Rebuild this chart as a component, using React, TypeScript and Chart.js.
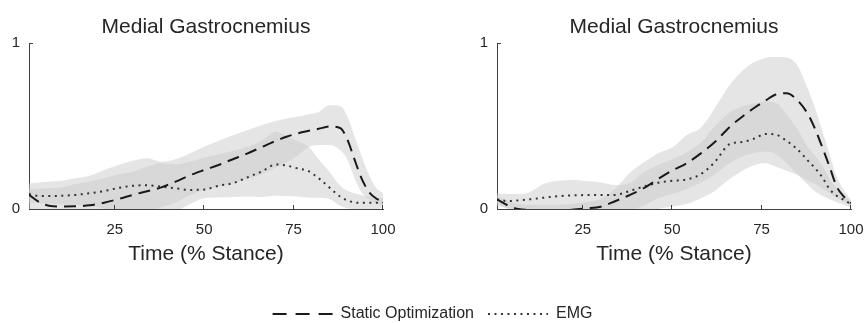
import React, { useEffect, useRef } from 'react';
import { Chart, registerables } from 'chart.js';

Chart.register(...registerables);

// ---- data ----
const STANCE = [1, 4, 7, 10, 14, 18, 22, 26, 30, 34, 38, 42, 46, 50, 54, 58, 62, 66, 70, 73, 76, 79, 82, 85, 88, 90, 92, 94, 96, 98, 100];

// Left panel
const LEFT_SO_MEAN = [0.085, 0.04, 0.018, 0.015, 0.016, 0.022, 0.038, 0.06, 0.085, 0.107, 0.13, 0.165, 0.203, 0.235, 0.265, 0.3, 0.334, 0.372, 0.41, 0.435, 0.455, 0.47, 0.483, 0.497, 0.488, 0.42, 0.3, 0.185, 0.105, 0.065, 0.044];
const LEFT_SO_UPPER = [0.155, 0.16, 0.165, 0.17, 0.185, 0.2, 0.235, 0.265, 0.29, 0.305, 0.285, 0.3, 0.335, 0.375, 0.41, 0.445, 0.475, 0.505, 0.53, 0.545, 0.555, 0.57, 0.585, 0.625, 0.62, 0.56, 0.44, 0.32, 0.21, 0.13, 0.095];
const LEFT_SO_LOWER = [-0.03, -0.08, -0.1, -0.11, -0.11, -0.1, -0.09, -0.07, -0.04, -0.015, 0.01, 0.04, 0.085, 0.115, 0.135, 0.155, 0.18, 0.21, 0.25, 0.28, 0.32, 0.37, 0.385, 0.385, 0.355, 0.3, 0.19, 0.1, 0.06, 0.035, 0.02];
const LEFT_EMG_MEAN = [0.09, 0.078, 0.078, 0.08, 0.085, 0.095, 0.108, 0.127, 0.14, 0.143, 0.135, 0.125, 0.115, 0.117, 0.14, 0.155, 0.19, 0.225, 0.268, 0.262, 0.245, 0.23, 0.185, 0.13, 0.075, 0.052, 0.04, 0.037, 0.037, 0.037, 0.038];
const LEFT_EMG_UPPER = [0.12, 0.122, 0.125, 0.13, 0.15, 0.165, 0.185, 0.21, 0.225, 0.255, 0.275, 0.27, 0.285, 0.31, 0.33, 0.35, 0.375, 0.41, 0.465, 0.44, 0.41, 0.38, 0.3, 0.225, 0.14, 0.11, 0.095, 0.085, 0.075, 0.07, 0.065];
const LEFT_EMG_LOWER = [0.04, 0.035, 0.03, 0.028, 0.022, 0.015, 0.003, -0.02, -0.03, -0.035, -0.03, -0.015, 0.03, 0.065, 0.07, 0.072, 0.075, 0.072, 0.08, 0.078, 0.075, 0.07, 0.068, 0.06, 0.02, 0.005, 0.0, -0.005, -0.005, 0.0, 0.005];

// Right panel
const RIGHT_SO_MEAN = [0.058, 0.022, 0.0, -0.005, -0.006, -0.006, -0.004, 0.004, 0.014, 0.047, 0.083, 0.125, 0.18, 0.232, 0.275, 0.335, 0.405, 0.493, 0.563, 0.61, 0.652, 0.69, 0.697, 0.655, 0.57, 0.48, 0.37, 0.255, 0.135, 0.075, 0.034];
const RIGHT_SO_UPPER = [0.08, 0.05, 0.03, 0.025, 0.025, 0.025, 0.03, 0.04, 0.06, 0.12, 0.215, 0.28, 0.335, 0.37, 0.445, 0.49, 0.61, 0.745, 0.84, 0.885, 0.91, 0.915, 0.913, 0.865, 0.72, 0.605, 0.47, 0.33, 0.195, 0.115, 0.054];
const RIGHT_SO_LOWER = [0.035, 0.0, -0.03, -0.035, -0.037, -0.037, -0.035, -0.03, -0.03, -0.02, -0.005, 0.02, 0.065, 0.09, 0.12, 0.16, 0.21, 0.275, 0.32, 0.337, 0.346, 0.33, 0.275, 0.21, 0.145, 0.105, 0.08, 0.058, 0.04, 0.025, 0.01];
const RIGHT_EMG_MEAN = [0.058, 0.048, 0.052, 0.058, 0.068, 0.077, 0.082, 0.084, 0.085, 0.085, 0.108, 0.135, 0.158, 0.17, 0.178, 0.21, 0.285, 0.39, 0.405, 0.425, 0.452, 0.448, 0.41, 0.36, 0.29, 0.245, 0.19, 0.12, 0.08, 0.055, 0.03];
const RIGHT_EMG_UPPER = [0.095, 0.09, 0.09, 0.1, 0.15, 0.17, 0.175, 0.168, 0.16, 0.145, 0.155, 0.22, 0.265, 0.3, 0.34, 0.4, 0.5, 0.58, 0.62, 0.635, 0.648, 0.64, 0.57, 0.48, 0.37, 0.32, 0.26, 0.18, 0.125, 0.08, 0.045];
const RIGHT_EMG_LOWER = [0.02, 0.005, 0.0, -0.01, -0.015, -0.02, -0.02, -0.02, -0.02, -0.02, -0.01, -0.01, 0.0, 0.015, 0.03, 0.065, 0.11, 0.18, 0.235, 0.265, 0.275, 0.255, 0.23, 0.205, 0.17, 0.15, 0.125, 0.095, 0.068, 0.043, 0.02];

const X_TICKS = [25, 50, 75, 100];
const Y_TICKS = [0, 1];
const PLOT_TITLE = 'Medial Gastrocnemius';
const X_LABEL = 'Time (% Stance)';
const SERIES_NAMES = ['Static Optimization', 'EMG'];

// ---- styles ----
const FONT = "'Liberation Sans', Arial, Helvetica, sans-serif";
const TEXT = '#262626';
const AXIS = '#404040';
const BAND = 'rgba(204,204,204,0.5)';
const SO_COLOR = '#1a1a1a';
const EMG_COLOR = '#333333';
const SO_DASH = [12, 7];
const EMG_DASH = [2, 4.5];
const LEGEND_SO_DASH = [14, 9];

function pts(ys: number[]) {
  return STANCE.map((x, i) => ({ x, y: ys[i] }));
}

const panelDecor = {
  id: 'panelDecor',
  afterDraw(chart: any, _args: any, opts: any) {
    const { ctx, chartArea, scales } = chart;
    ctx.save();
    ctx.strokeStyle = AXIS;
    ctx.lineWidth = 1;
    ctx.beginPath();
    for (const v of X_TICKS) {
      const px = Math.round(scales.x.getPixelForValue(v)) - 0.5;
      ctx.moveTo(px, chartArea.bottom);
      ctx.lineTo(px, chartArea.bottom - 4);
    }
    for (const v of Y_TICKS) {
      const py = Math.round(scales.y.getPixelForValue(v)) + 0.5;
      ctx.moveTo(chartArea.left, py);
      ctx.lineTo(chartArea.left + 4, py);
    }
    ctx.stroke();
    ctx.fillStyle = TEXT;
    ctx.font = `21px ${FONT}`;
    ctx.textAlign = 'center';
    ctx.textBaseline = 'alphabetic';
    ctx.fillText(opts.title, (chartArea.left + chartArea.right) / 2, 33);
    ctx.restore();
  },
};

function bandSet(ys: number[], fill: any) {
  return {
    label: '',
    data: pts(ys),
    borderWidth: 0,
    borderColor: 'rgba(0,0,0,0)',
    backgroundColor: BAND,
    pointRadius: 0,
    fill,
    cubicInterpolationMode: 'monotone',
  };
}

function buildPanel(
  canvas: HTMLCanvasElement,
  soMean: number[], soUpper: number[], soLower: number[],
  emgMean: number[], emgUpper: number[], emgLower: number[],
  yAxisWidth: number, rightPad: number,
) {
  return new Chart(canvas, {
    type: 'line',
    data: {
      datasets: [
        { label: SERIES_NAMES[0], data: pts(soMean), borderColor: SO_COLOR, borderWidth: 2, borderDash: SO_DASH, pointRadius: 0, fill: false, cubicInterpolationMode: 'monotone' },
        { label: SERIES_NAMES[1], data: pts(emgMean), borderColor: EMG_COLOR, borderWidth: 2, borderDash: EMG_DASH, pointRadius: 0, fill: false, cubicInterpolationMode: 'monotone' },
        bandSet(soUpper, '+1'),
        bandSet(soLower, false),
        bandSet(emgUpper, '+1'),
        bandSet(emgLower, false),
      ] as any,
    },
    options: {
      responsive: false,
      animation: false,
      events: [],
      layout: { padding: { left: 0, right: rightPad, top: 43, bottom: 0 } },
      plugins: {
        legend: { display: false },
        tooltip: { enabled: false },
        panelDecor: { title: PLOT_TITLE },
      } as any,
      scales: {
        x: {
          type: 'linear',
          min: 1,
          max: 100,
          afterBuildTicks: (s: any) => { s.ticks = X_TICKS.map((v) => ({ value: v })); },
          afterFit: (s: any) => { s.height = 81; s.paddingLeft = 0; s.paddingRight = 0; },
          grid: { display: false, drawTicks: false },
          border: { display: true, color: AXIS, width: 1 },
          ticks: { padding: 12, color: TEXT, font: { family: FONT, size: 15 }, maxRotation: 0, autoSkip: false },
          title: { display: true, text: X_LABEL, color: TEXT, font: { family: FONT, size: 21 }, padding: { top: 0, bottom: 22.7 } },
        },
        y: {
          type: 'linear',
          min: 0,
          max: 1,
          afterBuildTicks: (s: any) => { s.ticks = Y_TICKS.map((v) => ({ value: v })); },
          afterFit: (s: any) => { s.width = yAxisWidth; s.paddingTop = 0; s.paddingBottom = 0; },
          grid: { display: false, drawTicks: false },
          border: { display: true, color: AXIS, width: 1 },
          ticks: { padding: 9, color: TEXT, font: { family: FONT, size: 15 } },
        },
      } as any,
    },
    plugins: [panelDecor as any],
  });
}

function buildLegend(canvas: HTMLCanvasElement) {
  return new Chart(canvas, {
    type: 'line',
    data: {
      datasets: [
        { label: SERIES_NAMES[0], data: [], borderColor: SO_COLOR, borderWidth: 2, borderDash: LEGEND_SO_DASH },
        { label: SERIES_NAMES[1], data: [], borderColor: EMG_COLOR, borderWidth: 2, borderDash: EMG_DASH },
      ] as any,
    },
    options: {
      responsive: false,
      animation: false,
      events: [],
      layout: { padding: { top: 2 } },
      plugins: {
        legend: {
          display: true,
          position: 'top',
          maxHeight: 200,
          labels: {
            usePointStyle: true,
            pointStyle: 'line',
            pointStyleWidth: 60,
            color: TEXT,
            padding: 14,
            font: { family: FONT, size: 16 },
            generateLabels: (chart: any) =>
              chart.data.datasets.map((ds: any, i: number) => ({
                text: ds.label,
                fillStyle: 'rgba(0,0,0,0)',
                strokeStyle: ds.borderColor,
                lineWidth: ds.borderWidth,
                lineDash: ds.borderDash,
                lineCap: 'butt',
                pointStyle: 'line',
                hidden: false,
                datasetIndex: i,
                fontColor: TEXT,
              })),
          },
        },
        tooltip: { enabled: false },
      } as any,
      scales: { x: { display: false }, y: { display: false } } as any,
    },
  });
}

export default function App() {
  const leftRef = useRef<HTMLCanvasElement>(null);
  const rightRef = useRef<HTMLCanvasElement>(null);
  const legendRef = useRef<HTMLCanvasElement>(null);

  useEffect(() => {
    document.body.style.margin = '0';
    const charts: Chart[] = [];
    if (leftRef.current) {
      charts.push(buildPanel(leftRef.current, LEFT_SO_MEAN, LEFT_SO_UPPER, LEFT_SO_LOWER, LEFT_EMG_MEAN, LEFT_EMG_UPPER, LEFT_EMG_LOWER, 29, 49));
    }
    if (rightRef.current) {
      charts.push(buildPanel(rightRef.current, RIGHT_SO_MEAN, RIGHT_SO_UPPER, RIGHT_SO_LOWER, RIGHT_EMG_MEAN, RIGHT_EMG_UPPER, RIGHT_EMG_LOWER, 65, 14));
    }
    if (legendRef.current) {
      charts.push(buildLegend(legendRef.current));
    }
    return () => charts.forEach((c) => c.destroy());
  }, []);

  return (
    <div style={{ position: 'relative', width: 865, height: 323, background: '#fff', overflow: 'hidden' }}>
      <canvas ref={leftRef} width={432} height={290} style={{ position: 'absolute', left: 0, top: 0, width: 432, height: 290 }} />
      <canvas ref={rightRef} width={433} height={290} style={{ position: 'absolute', left: 432, top: 0, width: 433, height: 290 }} />
      <canvas ref={legendRef} width={865} height={33} style={{ position: 'absolute', left: 0, top: 290, width: 865, height: 33 }} />
    </div>
  );
}
